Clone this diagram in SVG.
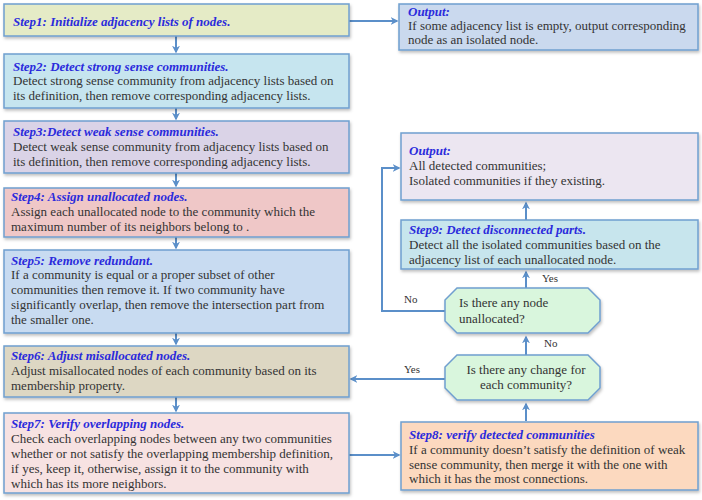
<svg xmlns="http://www.w3.org/2000/svg" width="702" height="500" viewBox="0 0 702 500">
<style>
.box{stroke:#6f9fcf;stroke-width:1.5;filter:url(#sh)}
.t{font-family:"Liberation Serif",serif;font-size:13px;font-weight:bold;font-style:italic;fill:#2b2bdc}
.b{font-family:"Liberation Serif",serif;font-size:13px;fill:#333}
.l{font-family:"Liberation Serif",serif;font-size:11px;fill:#333}
.c{fill:none;stroke:#5b8fc9;stroke-width:2;marker-end:url(#ah)}
</style>
<defs>
<marker id="ah" viewBox="0 0 10 10" refX="8" refY="5" markerWidth="4" markerHeight="4" orient="auto" markerUnits="strokeWidth">
<path d="M0,0 L10,5 L0,10 L3,5 Z" fill="#5b8fc9"/>
</marker>
<filter id="sh" x="-5%" y="-10%" width="110%" height="130%">
<feDropShadow dx="1" dy="2" stdDeviation="1.5" flood-color="#000" flood-opacity="0.25"/>
</filter>
</defs>
<rect width="702" height="500" fill="#fff"/>
<g id="connectors">
<path class="c" d="M176,36 V52"/>
<path class="c" d="M176,108 V119"/>
<path class="c" d="M176,173 V186"/>
<path class="c" d="M176,237 V248"/>
<path class="c" d="M176,333 V344"/>
<path class="c" d="M176,397 V411"/>
<path class="c" d="M349,21 H397"/>
<path class="c" d="M349,455 H399"/>
<path class="c" d="M526,421 V404"/>
<path class="c" d="M526,355 V337"/>
<path class="c" d="M526,288 V272"/>
<path class="c" d="M526,220 V203"/>
<path class="c" d="M445,379 H351"/>
<path class="c" d="M445,311 H382 V168 H399"/>
<text class="l" x="542" y="282">Yes</text>
<text class="l" x="544" y="347">No</text>
<text class="l" x="404" y="373">Yes</text>
<text class="l" x="404" y="303">No</text>
</g>
<g id="step1">
<rect class="box" x="4" y="4" width="345" height="32" fill="#e5ebc6"/>
<text class="t" x="13" y="26">Step1: Initialize adjacency lists of nodes.</text>
</g>
<g id="step2">
<rect class="box" x="4" y="54" width="345" height="54" fill="#c6e5ef"/>
<text class="t" x="13" y="71">Step2: Detect strong sense communities.</text>
<text class="b" x="13" y="85">Detect strong sense community from adjacency lists based on</text>
<text class="b" x="13" y="100">its definition, then remove corresponding adjacency lists.</text>
</g>
<g id="step3">
<rect class="box" x="4" y="121" width="345" height="52" fill="#dad3e7"/>
<text class="t" x="13" y="136">Step3:Detect weak sense communities.</text>
<text class="b" x="13" y="151">Detect weak sense community from adjacency lists based on</text>
<text class="b" x="13" y="166">its definition, then remove corresponding adjacency lists.</text>
</g>
<g id="step4">
<rect class="box" x="4" y="188" width="345" height="49" fill="#efc7c7"/>
<text class="t" x="11" y="201">Step4: Assign unallocated nodes.</text>
<text class="b" x="11" y="216">Assign each unallocated node to the community which the</text>
<text class="b" x="11" y="231">maximum number of its neighbors belong to .</text>
</g>
<g id="step5">
<rect class="box" x="4" y="250" width="345" height="83" fill="#c8dbf1"/>
<text class="t" x="11" y="265">Step5: Remove redundant.</text>
<text class="b" x="11" y="279">If a community is equal or a proper subset of other</text>
<text class="b" x="11" y="294">communities then remove it. If two community have</text>
<text class="b" x="11" y="309">significantly overlap, then remove the intersection part from</text>
<text class="b" x="11" y="324">the smaller one.</text>
</g>
<g id="step6">
<rect class="box" x="4" y="346" width="345" height="51" fill="#ddd7c3"/>
<text class="t" x="11" y="360">Step6: Adjust misallocated nodes.</text>
<text class="b" x="11" y="375">Adjust misallocated nodes of each community based on its</text>
<text class="b" x="11" y="390">membership property.</text>
</g>
<g id="step7">
<rect class="box" x="4" y="413" width="345" height="80" fill="#f7e2e2"/>
<text class="t" x="11" y="428">Step7: Verify overlapping nodes.</text>
<text class="b" x="11" y="443">Check each overlapping nodes between any two communities</text>
<text class="b" x="11" y="458">whether or not satisfy the overlapping membership definition,</text>
<text class="b" x="11" y="473">if yes, keep it, otherwise, assign it to the community with</text>
<text class="b" x="11" y="488">which has its more neighbors.</text>
</g>
<g id="output1">
<rect class="box" x="399" y="4" width="299" height="46" fill="#cad9ee"/>
<text class="t" x="408" y="16">Output:</text>
<text class="b" x="408" y="30">If some adjacency list is empty, output corresponding</text>
<text class="b" x="408" y="44">node as an isolated node.</text>
</g>
<g id="output2">
<rect class="box" x="401" y="133" width="297" height="67" fill="#ece6f1"/>
<text class="t" x="409" y="155">Output:</text>
<text class="b" x="409" y="170">All detected communities;</text>
<text class="b" x="409" y="185">Isolated communities if they existing.</text>
</g>
<g id="step9">
<rect class="box" x="401" y="220" width="297" height="49" fill="#c7e5ed"/>
<text class="t" x="409" y="234">Step9: Detect disconnected parts.</text>
<text class="b" x="409" y="249">Detect all the isolated communities based on the</text>
<text class="b" x="409" y="264">adjacency list of each unallocated node.</text>
</g>
<g id="decision1">
<polygon class="box" points="457,288 588,288 600,300 600,321 588,333 457,333 445,321 445,300" fill="#d9f6dd"/>
<text class="b" x="459" y="307">Is there any node</text>
<text class="b" x="459" y="323">unallocated?</text>
</g>
<g id="decision2">
<polygon class="box" points="457,355 588,355 600,367 600,388 588,400 457,400 445,388 445,367" fill="#d9f6dd"/>
<text class="b" x="526" y="374" text-anchor="middle">Is there any change for</text>
<text class="b" x="526" y="389" text-anchor="middle">each community?</text>
</g>
<g id="step8">
<rect class="box" x="401" y="422" width="297" height="68" fill="#fcd9bf"/>
<text class="t" x="409" y="439">Step8: verify detected communities</text>
<text class="b" x="409" y="454">If a community doesn’t satisfy the definition of weak</text>
<text class="b" x="409" y="469">sense community, then merge it with the one with</text>
<text class="b" x="409" y="483">which it has the most connections.</text>
</g>
</svg>
